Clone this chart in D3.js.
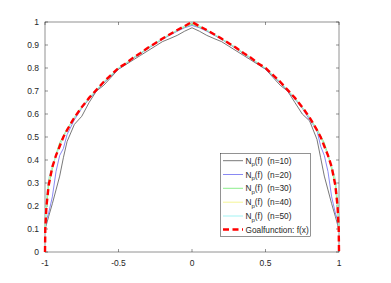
<!DOCTYPE html>
<html>
<head>
<meta charset="utf-8">
<script src="https://cdn.jsdelivr.net/npm/d3@7"></script>
<style>
  body { margin: 0; background: #fff; }
  svg { display: block; font-family: "Liberation Sans", Arial, sans-serif; }
  .leg text { white-space: pre; }
</style>
</head>
<body>
<svg id="chart"></svg>
<script>
// x grid used by the approximations N_p(f)
const xApprox = [-1, -0.99, -0.975, -0.95, -0.925, -0.9, -0.875, -0.85, -0.8, -0.75, -0.7, -0.65, -0.6, -0.55, -0.5, -0.45, -0.4, -0.35, -0.3, -0.25, -0.2, -0.15, -0.1, -0.05, 0,
  0.05, 0.1, 0.15, 0.2, 0.25, 0.3, 0.35, 0.4, 0.45, 0.5, 0.55, 0.6, 0.65, 0.7, 0.75, 0.8, 0.85, 0.875, 0.9, 0.925, 0.95, 0.975, 0.99, 1];

const n10 = [0.10, 0.12, 0.155, 0.21, 0.27, 0.33, 0.41, 0.48, 0.555, 0.59, 0.65, 0.70, 0.725, 0.76, 0.795, 0.815, 0.835, 0.855, 0.875, 0.895, 0.915, 0.928, 0.942, 0.96, 0.975,
  0.96, 0.942, 0.928, 0.915, 0.895, 0.875, 0.855, 0.835, 0.815, 0.795, 0.76, 0.725, 0.70, 0.65, 0.60, 0.57, 0.49, 0.41, 0.33, 0.27, 0.21, 0.155, 0.12, 0.10];
const n20 = [0.10, 0.14, 0.17, 0.24, 0.35, 0.42, 0.45, 0.51, 0.575, 0.625, 0.665, 0.70, 0.735, 0.765, 0.795, 0.818, 0.842, 0.862, 0.885, 0.905, 0.925, 0.943, 0.96, 0.975, 0.985,
  0.975, 0.96, 0.943, 0.925, 0.905, 0.885, 0.862, 0.842, 0.818, 0.795, 0.765, 0.735, 0.70, 0.665, 0.625, 0.575, 0.53, 0.46, 0.42, 0.35, 0.24, 0.17, 0.14, 0.10];
const n30 = [0.10, 0.19, 0.29, 0.36, 0.425, 0.475, 0.505, 0.535, 0.585, 0.628, 0.668, 0.703, 0.738, 0.768, 0.798, 0.82, 0.844, 0.864, 0.887, 0.907, 0.927, 0.946, 0.963, 0.978, 0.99,
  0.978, 0.963, 0.946, 0.927, 0.907, 0.887, 0.864, 0.844, 0.82, 0.798, 0.768, 0.738, 0.703, 0.668, 0.628, 0.585, 0.535, 0.505, 0.475, 0.425, 0.36, 0.29, 0.19, 0.10];
const n40 = [0.10, 0.22, 0.31, 0.37, 0.42, 0.46, 0.50, 0.53, 0.585, 0.63, 0.67, 0.705, 0.74, 0.77, 0.80, 0.82, 0.845, 0.865, 0.888, 0.908, 0.928, 0.947, 0.965, 0.982, 0.995,
  0.982, 0.965, 0.947, 0.928, 0.908, 0.888, 0.865, 0.845, 0.82, 0.80, 0.77, 0.74, 0.705, 0.67, 0.63, 0.585, 0.53, 0.50, 0.46, 0.42, 0.37, 0.31, 0.22, 0.10];
const n50 = [0.10, 0.24, 0.32, 0.375, 0.42, 0.46, 0.50, 0.53, 0.585, 0.63, 0.67, 0.705, 0.74, 0.77, 0.80, 0.82, 0.845, 0.865, 0.888, 0.908, 0.928, 0.947, 0.965, 0.983, 0.997,
  0.983, 0.965, 0.947, 0.928, 0.908, 0.888, 0.865, 0.845, 0.82, 0.80, 0.77, 0.74, 0.705, 0.67, 0.63, 0.585, 0.53, 0.50, 0.46, 0.42, 0.375, 0.32, 0.24, 0.10];

// goal function f(x)
const goalX = [-1, -0.998, -0.99, -0.975, -0.95, -0.925, -0.9, -0.875, -0.85, -0.8, -0.75, -0.7, -0.65, -0.6, -0.55, -0.5, -0.45, -0.4, -0.35, -0.3, -0.25, -0.2, -0.15, -0.1, -0.05, 0,
  0.05, 0.1, 0.15, 0.2, 0.25, 0.3, 0.35, 0.4, 0.45, 0.5, 0.55, 0.6, 0.65, 0.7, 0.75, 0.8, 0.85, 0.875, 0.9, 0.925, 0.95, 0.975, 0.99, 0.998, 1];
const goalY = [0, 0.1, 0.2, 0.29, 0.37, 0.42, 0.46, 0.50, 0.53, 0.585, 0.63, 0.67, 0.705, 0.74, 0.77, 0.80, 0.82, 0.845, 0.865, 0.888, 0.908, 0.928, 0.947, 0.965, 0.982, 1.0,
  0.982, 0.965, 0.947, 0.928, 0.908, 0.888, 0.865, 0.845, 0.82, 0.80, 0.77, 0.74, 0.705, 0.67, 0.63, 0.585, 0.53, 0.50, 0.46, 0.42, 0.37, 0.29, 0.2, 0.1, 0];

const xTicks = [-1, -0.5, 0, 0.5, 1];
const xTickLabels = ['-1', '-0.5', '0', '0.5', '1'];
const yTicks = [0, 0.1, 0.2, 0.3, 0.4, 0.5, 0.6, 0.7, 0.8, 0.9, 1];
const yTickLabels = ['0', '0.1', '0.2', '0.3', '0.4', '0.5', '0.6', '0.7', '0.8', '0.9', '1'];

const seriesNames = ['(n=10)', '(n=20)', '(n=30)', '(n=40)', '(n=50)'];
const seriesColors = ['#555555', '#6b6bf0', '#6ee86e', '#f2f27a', '#8cf0f0'];
const seriesValues = [n10, n20, n30, n40, n50];

const width = 391, height = 283;
const plotLeft = 45, plotRight = 339, plotTop = 22, plotBottom = 252;
const axisColor = '#262626';

const svg = d3.select('#chart').attr('width', width).attr('height', height);

const x = d3.scaleLinear().domain([-1, 1]).range([plotLeft, plotRight]);
const y = d3.scaleLinear().domain([0, 1]).range([plotBottom, plotTop]);

// axes box
svg.append('rect')
  .attr('x', plotLeft).attr('y', plotTop)
  .attr('width', plotRight - plotLeft).attr('height', plotBottom - plotTop)
  .attr('fill', 'none').attr('stroke', axisColor).attr('stroke-width', 0.5);

const tickLen = 3;
const g = svg.append('g').attr('stroke', axisColor).attr('stroke-width', 0.5);
xTicks.forEach(t => {
  g.append('line').attr('x1', x(t)).attr('x2', x(t)).attr('y1', plotBottom).attr('y2', plotBottom - tickLen);
  g.append('line').attr('x1', x(t)).attr('x2', x(t)).attr('y1', plotTop).attr('y2', plotTop + tickLen);
});
yTicks.forEach(t => {
  g.append('line').attr('x1', plotLeft).attr('x2', plotLeft + tickLen).attr('y1', y(t)).attr('y2', y(t));
  g.append('line').attr('x1', plotRight).attr('x2', plotRight - tickLen).attr('y1', y(t)).attr('y2', y(t));
});

svg.selectAll('.xlab')
  .data(xTicks)
  .enter()
  .append('text')
  .attr('x', d => x(d))
  .attr('y', plotBottom + 14)
  .attr('text-anchor', 'middle')
  .attr('font-size', '8.5px')
  .attr('fill', axisColor)
  .text((d, i) => xTickLabels[i]);

svg.selectAll('.ylab')
  .data(yTicks)
  .enter()
  .append('text')
  .attr('x', plotLeft - 6)
  .attr('y', d => y(d) + 3)
  .attr('text-anchor', 'end')
  .attr('font-size', '8.5px')
  .attr('fill', axisColor)
  .text((d, i) => yTickLabels[i]);

// curves
const line = d3.line()
  .x(d => x(d[0]))
  .y(d => y(d[1]));

seriesValues.forEach((vals, i) => {
  svg.append('path')
    .datum(xApprox.map((xv, j) => [xv, vals[j]]))
    .attr('d', line)
    .attr('fill', 'none')
    .attr('stroke', seriesColors[i])
    .attr('stroke-width', 0.8);
});

svg.append('path')
  .datum(goalX.map((xv, j) => [xv, goalY[j]]))
  .attr('d', line)
  .attr('fill', 'none')
  .attr('stroke', '#ff0000')
  .attr('stroke-width', 2.4)
  .attr('stroke-dasharray', '6,3.5');

// legend
const lx = 220.5, ly = 153.5, lw = 90, lh = 83;
const legend = svg.append('g').attr('class', 'leg');
legend.append('rect')
  .attr('x', lx).attr('y', ly).attr('width', lw).attr('height', lh)
  .attr('fill', '#fff').attr('stroke', axisColor).attr('stroke-width', 0.5);

const rowY = [160.7, 174.5, 188.3, 202.2, 216, 229.5];
seriesNames.forEach((name, i) => {
  legend.append('line')
    .attr('x1', 223).attr('x2', 243).attr('y1', rowY[i]).attr('y2', rowY[i])
    .attr('stroke', seriesColors[i]).attr('stroke-width', 0.8);
  const t = legend.append('text')
    .attr('x', 245.5).attr('y', rowY[i] + 3)
    .attr('font-size', '8.3px').attr('fill', axisColor);
  t.append('tspan').text('N');
  t.append('tspan').attr('font-size', '6px').attr('dy', 2.5).text('p');
  t.append('tspan').attr('dy', -2.5).text('(f)  ' + name);
});
legend.append('line')
  .attr('x1', 223).attr('x2', 243).attr('y1', rowY[5]).attr('y2', rowY[5])
  .attr('stroke', '#ff0000').attr('stroke-width', 2.4).attr('stroke-dasharray', '6,3.5');
legend.append('text')
  .attr('x', 245.5).attr('y', rowY[5] + 3)
  .attr('font-size', '8.3px').attr('fill', axisColor)
  .text('Goalfunction: f(x)');
</script>
</body>
</html>
